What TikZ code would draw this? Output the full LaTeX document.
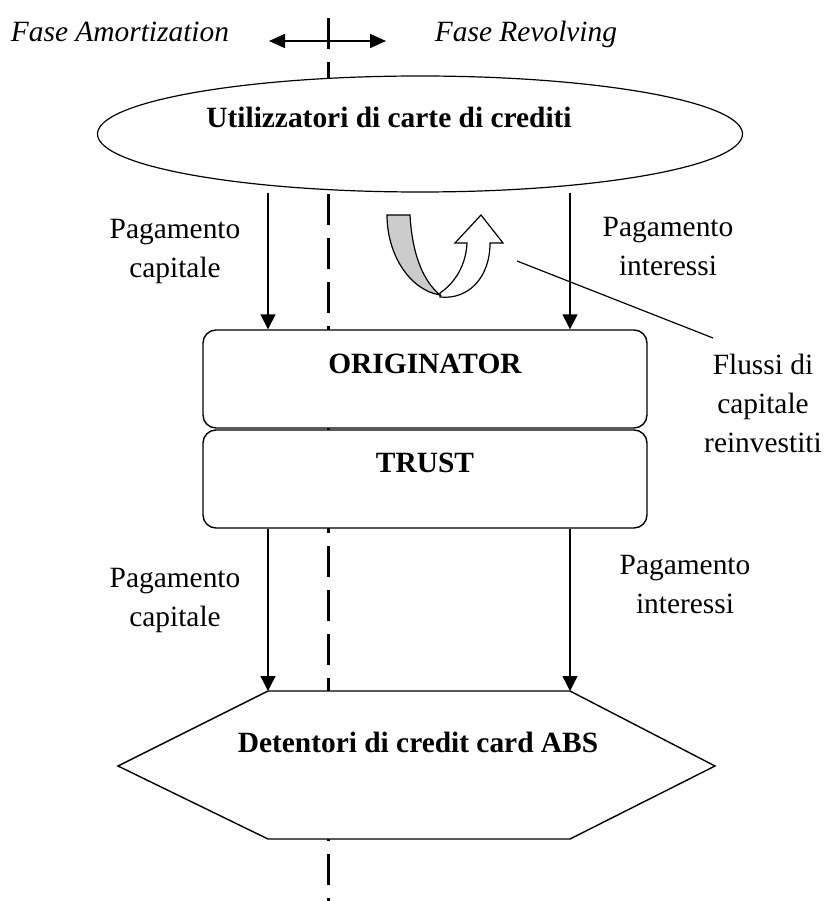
\documentclass[tikz,border=0pt]{standalone}
\usepackage{fontspec}
\setmainfont{Liberation Serif}
\usetikzlibrary{calc,shapes,positioning}
\usetikzlibrary{arrows.meta}

\begin{document}
\begin{tikzpicture}[x=1pt,y=-1pt]
    \tikzstyle{enode} = [draw, ellipse, fill=white, line width=1.2pt, minimum width=645pt, minimum height=116pt, inner sep=0pt]
    \tikzstyle{bnode} = [draw, rectangle, rounded corners=13pt, fill=white, line width=1.4pt, minimum width=444pt, minimum height=98pt, inner sep=0pt]
    \tikzstyle{tnode} = [font=\fontsize{29.4}{39}\selectfont\bfseries, inner sep=0pt]
    \tikzstyle{lnode} = [font=\fontsize{29.4}{39}\selectfont, align=center, inner sep=0pt]
    \tikzstyle{fnode} = [font=\fontsize{29.4}{39}\selectfont\itshape, inner sep=0pt]
    \tikzstyle{flow} = [line width=1.4pt, -{Triangle[length=15pt,width=15pt]}]

    \useasboundingbox (0,0) rectangle (826,901);

    % phase divider
    \draw[line width=3pt, dash pattern=on 31pt off 13pt] (328,18) -- (328,901);

    \coordinate (phL) at (269,41);
    \coordinate (phR) at (386,41);
    \draw[line width=1.6pt, {Triangle[length=16pt,width=14pt]}-{Triangle[length=16pt,width=14pt]}] (phL) -- (phR);
    \node[fnode, anchor=base] (amort) at (120,42) {Fase Amortization};
    \node[fnode, anchor=base] (revol) at (526,42) {Fase Revolving};

    % shapes
    \node[enode] (users) at (420,134) {};
    \node[tnode, anchor=base] (userslbl) at (389,128) {Utilizzatori di carte di crediti};

    \node[bnode] (orig) at (425,379) {};
    \node[bnode] (trust) at (425,479) {};
    \node[tnode, anchor=base] (origlbl) at (425,373) {ORIGINATOR};
    \node[tnode, anchor=base] (trustlbl) at (425,472) {TRUST};

    \coordinate (hexTL) at (268,691);
    \coordinate (hexTR) at (570,691);
    \coordinate (hexR) at (715,766);
    \coordinate (hexBR) at (570,839);
    \coordinate (hexBL) at (268,839);
    \coordinate (hexL) at (118,766);
    \draw[line width=1.4pt, fill=white] (hexTL) -- (hexTR) -- (hexR) -- (hexBR) -- (hexBL) -- (hexL) -- cycle;
    \node[tnode, anchor=base] (abslbl) at (418,752) {Detentori di credit card ABS};

    % flows
    \coordinate (colL) at (268,0);
    \coordinate (colR) at (570,0);
    \draw[flow] (users.south -| colL) -- (orig.north -| colL);
    \draw[flow] (users.south -| colR) -- (orig.north -| colR);
    \draw[flow] (trust.south -| colL) -- (hexTL);
    \draw[flow] (trust.south -| colR) -- (hexTR);

    \node[lnode, anchor=base] (cap1) at (175,277) {Pagamento\\capitale};
    \node[lnode, anchor=base] (int1) at (668,275) {Pagamento\\interessi};
    \node[lnode, anchor=base] (cap2) at (175,626) {Pagamento\\capitale};
    \node[lnode, anchor=base] (int2) at (685,613) {Pagamento\\interessi};

    % reinvested flows
    \draw[line width=1.2pt, fill=white] (440,293) .. controls (455,283) and (466,265) .. (467,243)
      -- (455,243) -- (481,215) -- (503,243) -- (490,243)
      .. controls (490,278) and (468,300) .. (440,297) -- cycle;
    \draw[line width=1.2pt, fill=gray!40] (387,215) -- (410,215)
      .. controls (412,252) and (422,280) .. (440,295)
      .. controls (410,290) and (387,255) .. (387,215) -- cycle;

    \coordinate (callS) at (517,261);
    \coordinate (callE) at (713,338);
    \draw[line width=1.2pt] (callS) -- (callE);
    \node[lnode, anchor=base] (reinv) at (763,452) {Flussi di\\capitale\\reinvestiti};
\end{tikzpicture}
\end{document}
